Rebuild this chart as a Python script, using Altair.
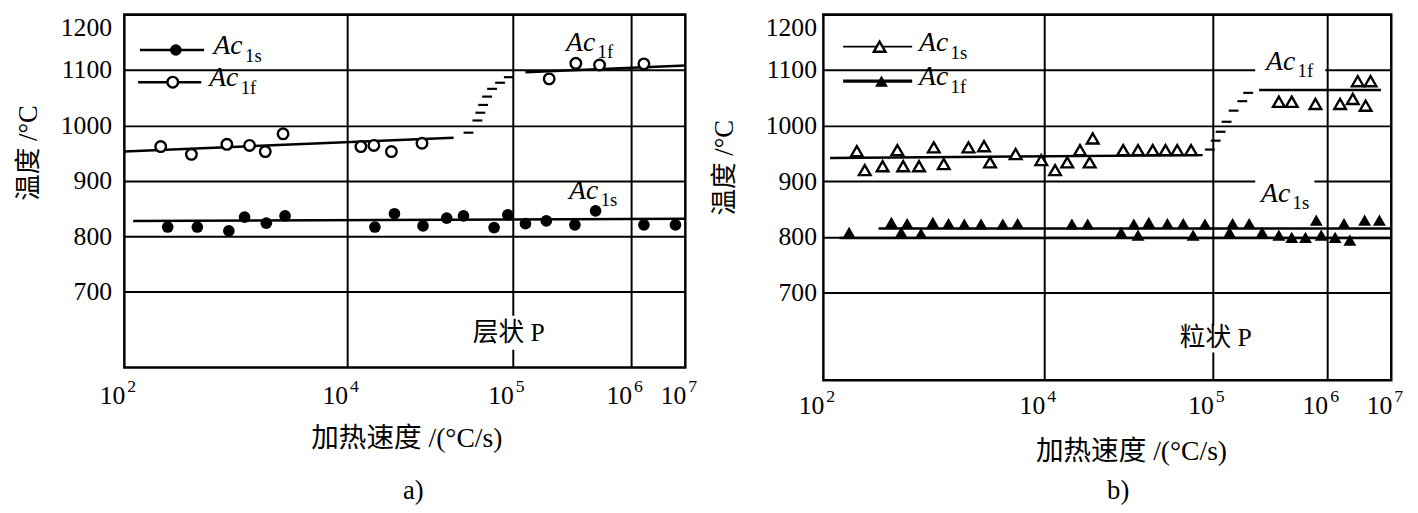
import altair as alt
import pandas as pd

SERIF = "Liberation Serif"
MIXED = "'Liberation Serif', 'Noto Sans CJK SC'"

# ---------------- shared axis values ----------------
tick_rate = [1e2, 1e4, 1e5, 1e6, 1e7]
tick_exp = ["2", "4", "5", "6", "7"]
grid_rate = [1e4, 1e5, 1e6]
temp_ticks = [700, 800, 900, 1000, 1100, 1200]

# ---------------- a) 层状 P ----------------
a_s_rate = [245, 452, 867, 1200, 1880, 2770, 14700, 19300, 28700, 39900, 50400,
            77100, 93300, 128000, 192000, 335000, 501000, 1720000, 6580000]
a_s_temp = [817, 817, 810, 835, 824, 837, 817, 841, 819, 833, 837,
            816, 839, 823, 828, 821, 846, 821, 821]
a_f_rate = [212, 400, 832, 1330, 1840, 2660, 12100, 14500, 18500, 28300,
            203000, 341000, 541000, 1720000]
a_f_temp = [962, 948, 966, 964, 953, 985, 962, 964, 953, 968,
            1084, 1112, 1109, 1111]
a_fit_rate = [120, 1e7, 100, 43900, 128000, 1e7]
a_fit_temp = [828, 832, 953, 978, 1096, 1108]
a_fit_seg = ["s", "s", "f1", "f1", "f2", "f2"]
a_dash_rate = [54000, 61100, 63700, 66200, 70000, 75000, 83800, 94600]
a_dash_temp = [987, 1009, 1023, 1037, 1052, 1066, 1077, 1087]
a_leg_rate = [138, 520, 133, 490]
a_leg_temp = [1136, 1136, 1078, 1078]
a_leg_seg = ["r1", "r1", "r2", "r2"]
a_leg_width = [2.5, 2.5, 2.5, 2.5]
a_leg_s = ([290], [1136])
a_leg_f = ([272], [1078])
a_leg_txt = ([631, 577], [1136, 1078], ["1s", "1f"])
a_lab_txt = ([282000, 299000], [1148, 882], ["1f", "1s"])
a_boxes = ([53200], [215000], [657], [596])
a_note = ([94600], [626], ["层状 P"])

# ---------------- b) 粒状 P ----------------
b_open_rate = [201, 237, 344, 468, 528, 735, 1000, 1230, 2060, 2850, 3230, 5510, 9400,
               11600, 13700, 16300, 18600, 19400, 29400, 36000, 44000, 52400, 61500, 74300,
               378000, 490000, 789000, 1590000, 2510000, 3980000, 3000000, 4750000]
b_open_temp = [954, 920, 927, 956, 927, 927, 961, 931, 961, 963, 934, 949, 938,
               920, 934, 956, 934, 977, 956, 956, 956, 956, 956, 956,
               1043, 1043, 1039, 1039, 1048, 1036, 1080, 1080]
b_fill_rate = [171, 413, 507, 574, 766, 980, 1360, 1890, 2680, 4220, 5740,
               14600, 18100, 28600, 34000, 36000, 41700, 53800, 66800, 76400, 89800,
               140000, 149000, 208000, 270000, 378000, 490000, 646000, 803000, 887000,
               1330000, 1830000, 2260000, 3840000, 6530000]
b_fill_temp = [808, 826, 808, 824, 806, 826, 824, 823, 823, 823, 824,
               823, 823, 808, 823, 803, 826, 824, 824, 803, 823,
               808, 824, 824, 808, 803, 799, 799, 830, 803,
               799, 824, 794, 830, 830]
b_fit_rate = [115, 87000, 254000, 6.9e6, 316, 1e7, 140, 1e7]
b_fit_temp = [942, 947, 1064, 1064, 815, 815, 798, 798]
b_fit_seg = ["o1", "o1", "o2", "o2", "fA", "fA", "fB", "fB"]
b_dash_rate = [96000, 106000, 117000, 132000, 152000, 181000, 204000]
b_dash_temp = [957, 973, 989, 1007, 1027, 1044, 1059]
b_leg_rate = [151, 637, 151, 637]
b_leg_temp = [1142, 1142, 1080, 1080]
b_leg_seg = ["r1", "r1", "r2", "r2"]
b_leg_width = [1.8, 1.8, 3.2, 3.2]
b_leg_open = ([323], [1142])
b_leg_fill = ([336], [1080])
b_leg_txt = ([735, 735], [1142, 1080], ["1s", "1f"])
b_lab_txt = ([292000, 264000], [1114, 876], ["1f", "1s"])
b_boxes = ([235000, 235000, 58400], [962000, 773000, 254000], [1131, 915, 640], [1083, 862, 592])
b_note = ([106000], [617], ["粒状 P"])


def df(**cols):
    return pd.DataFrame(cols)


def panel(cfg):
    W, H = cfg["w"], cfg["h"]
    xs = alt.Scale(type="log", domain=tick_rate, range=cfg["xrange"], nice=False)
    ys = alt.Scale(domain=cfg["ydomain"], nice=False, zero=False)

    xaxis = alt.Axis(values=grid_rate, grid=True, gridColor="black", gridWidth=2,
                     gridOpacity=1, labels=False, ticks=False, domain=False,
                     title="加热速度 /(°C/s)", titleFont=MIXED, titleFontSize=28,
                     titleFontWeight="normal", titleColor="black",
                     titleY=cfg["xtitle_y"], titleX=cfg["xtitle_x"], titleBaseline="middle")
    yaxis = alt.Axis(values=temp_ticks, format="d", grid=True, gridColor="black", gridWidth=2,
                     gridOpacity=1, ticks=False, tickSize=0, domain=False,
                     labelFont=SERIF, labelFontSize=26, labelColor="black",
                     labelPadding=cfg["lpad"], labelFlush=True,
                     title="温度 /°C", titleFont=MIXED, titleFontSize=27,
                     titleFontWeight="normal", titleColor="black",
                     titleX=cfg["ytitle_x"], titleY=cfg["ytitle_y"],
                     titleBaseline="middle", titleAngle=270)

    def X(field="rate"):
        return alt.X(f"{field}:Q", scale=xs, axis=xaxis)

    def Y(field="temp"):
        return alt.Y(f"{field}:Q", scale=ys, axis=yaxis)

    layers = []
    # white boxes behind labels (cover grid lines)
    bx = cfg["boxes"]
    layers.append(alt.Chart(df(rate=bx[0], rate2=bx[1], temp=bx[2], temp2=bx[3]))
                  .mark_rect(color="white")
                  .encode(x=X(), x2="rate2:Q", y=Y(), y2="temp2:Q"))
    # fitted lines
    layers.append(alt.Chart(df(rate=cfg["fit"][0], temp=cfg["fit"][1], seg=cfg["fit"][2]))
                  .mark_line(color="black", strokeWidth=2.5)
                  .encode(x=X(), y=Y(), detail="seg:N"))
    # transition dashes
    layers.append(alt.Chart(df(rate=cfg["dash"][0], temp=cfg["dash"][1]))
                  .mark_tick(orient="horizontal", size=10, thickness=2.2, color="black", opacity=1)
                  .encode(x=X(), y=Y()))
    # legend lines
    lg = cfg["leg"]
    layers.append(alt.Chart(df(rate=lg[0], temp=lg[1], seg=lg[2], lw=lg[3]))
                  .mark_line(color="black")
                  .encode(x=X(), y=Y(), detail="seg:N",
                          strokeWidth=alt.StrokeWidth("lw:Q", scale=None)))
    # data points
    for (rates, temps), shape, filled, size in cfg["points"]:
        if filled:
            m = alt.Chart(df(rate=rates, temp=temps)).mark_point(
                shape=shape, filled=True, size=size, color="black", opacity=1)
        else:
            m = alt.Chart(df(rate=rates, temp=temps)).mark_point(
                shape=shape, filled=False, size=size, color="black", fill="white",
                fillOpacity=1, strokeWidth=2.4, opacity=1)
        layers.append(m.encode(x=X(), y=Y()))
    # "Ac" labels with subscripts
    for (rates, temps, subs), dmain, dsub in [(cfg["legtxt"], -4, 6), (cfg["labtxt"], 0, 9)]:
        d = df(rate=rates, temp=temps, sub=subs)
        layers.append(alt.Chart(d).mark_text(text="Ac", font=SERIF, fontStyle="italic",
                                             fontSize=28, align="left", baseline="middle",
                                             dy=dmain, color="black")
                      .encode(x=X(), y=Y()))
        layers.append(alt.Chart(d).mark_text(font=SERIF, fontSize=19, align="left",
                                             baseline="middle", dx=32, dy=dsub, color="black")
                      .encode(x=X(), y=Y(), text="sub:N"))
    # panel note
    nt = cfg["note"]
    layers.append(alt.Chart(df(rate=nt[0], temp=nt[1], t=nt[2]))
                  .mark_text(font=MIXED, fontSize=26, align="center", baseline="middle", color="black")
                  .encode(x=X(), y=Y(), text="t:N"))
    # x tick labels 10^n
    tk = df(rate=tick_rate, e=tick_exp)
    layers.append(alt.Chart(tk).mark_text(text="10", font=SERIF, fontSize=26, align="right",
                                          baseline="middle", dx=1, color="black")
                  .encode(x=X(), y=alt.value(H + cfg["lab_dy"])))
    layers.append(alt.Chart(tk).mark_text(font=SERIF, fontSize=18, align="left",
                                          baseline="middle", dx=3, color="black")
                  .encode(x=X(), y=alt.value(H + cfg["lab_dy"] - 9), text="e:N"))
    # caption a) / b)
    layers.append(alt.Chart(df(t=[cfg["cap"]])).mark_text(font=SERIF, fontSize=27, align="center",
                                                         baseline="middle", color="black")
                  .encode(x=alt.value(cfg["cap_x"]), y=alt.value(H + cfg["cap_dy"]), text="t:N"))
    return alt.layer(*layers).properties(width=W, height=H)


left = panel(dict(
    w=569, h=358, xrange=[0, 226, 394, 514, 569], ydomain=[564, 1200],
    xtitle_y=72, xtitle_x=286, lpad=13, ytitle_x=-97, ytitle_y=140,
    boxes=a_boxes, fit=(a_fit_rate, a_fit_temp, a_fit_seg),
    dash=(a_dash_rate, a_dash_temp),
    leg=(a_leg_rate, a_leg_temp, a_leg_seg, a_leg_width),
    points=[((a_s_rate, a_s_temp), "circle", True, 140),
            ((a_f_rate, a_f_temp), "circle", False, 115),
            (a_leg_s, "circle", True, 140),
            (a_leg_f, "circle", False, 115)],
    legtxt=a_leg_txt, labtxt=a_lab_txt, note=a_note,
    lab_dy=29, cap="a)", cap_x=293, cap_dy=125,
))

right = panel(dict(
    w=576, h=371, xrange=[0, 224, 395, 511, 576], ydomain=[542, 1200],
    xtitle_y=72, xtitle_x=312, lpad=7, ytitle_x=-100, ytitle_y=155,
    boxes=b_boxes, fit=(b_fit_rate, b_fit_temp, b_fit_seg),
    dash=(b_dash_rate, b_dash_temp),
    leg=(b_leg_rate, b_leg_temp, b_leg_seg, b_leg_width),
    points=[((b_open_rate, b_open_temp), "triangle-up", False, 140),
            ((b_fill_rate, b_fill_temp), "triangle-up", True, 170),
            (b_leg_open, "triangle-up", False, 140),
            (b_leg_fill, "triangle-up", True, 170)],
    legtxt=b_leg_txt, labtxt=b_lab_txt, note=b_note,
    lab_dy=26, cap="b)", cap_x=299, cap_dy=112,
))

chart = (alt.hconcat(left, right, spacing=140, bounds="flush")
         .configure_view(stroke="black", strokeWidth=2.5)
         .properties(padding={"left": 5, "top": 1, "right": 5, "bottom": 0},
                     background="white"))

chart.save("out.html", embed_options={"renderer": "svg", "actions": False})
